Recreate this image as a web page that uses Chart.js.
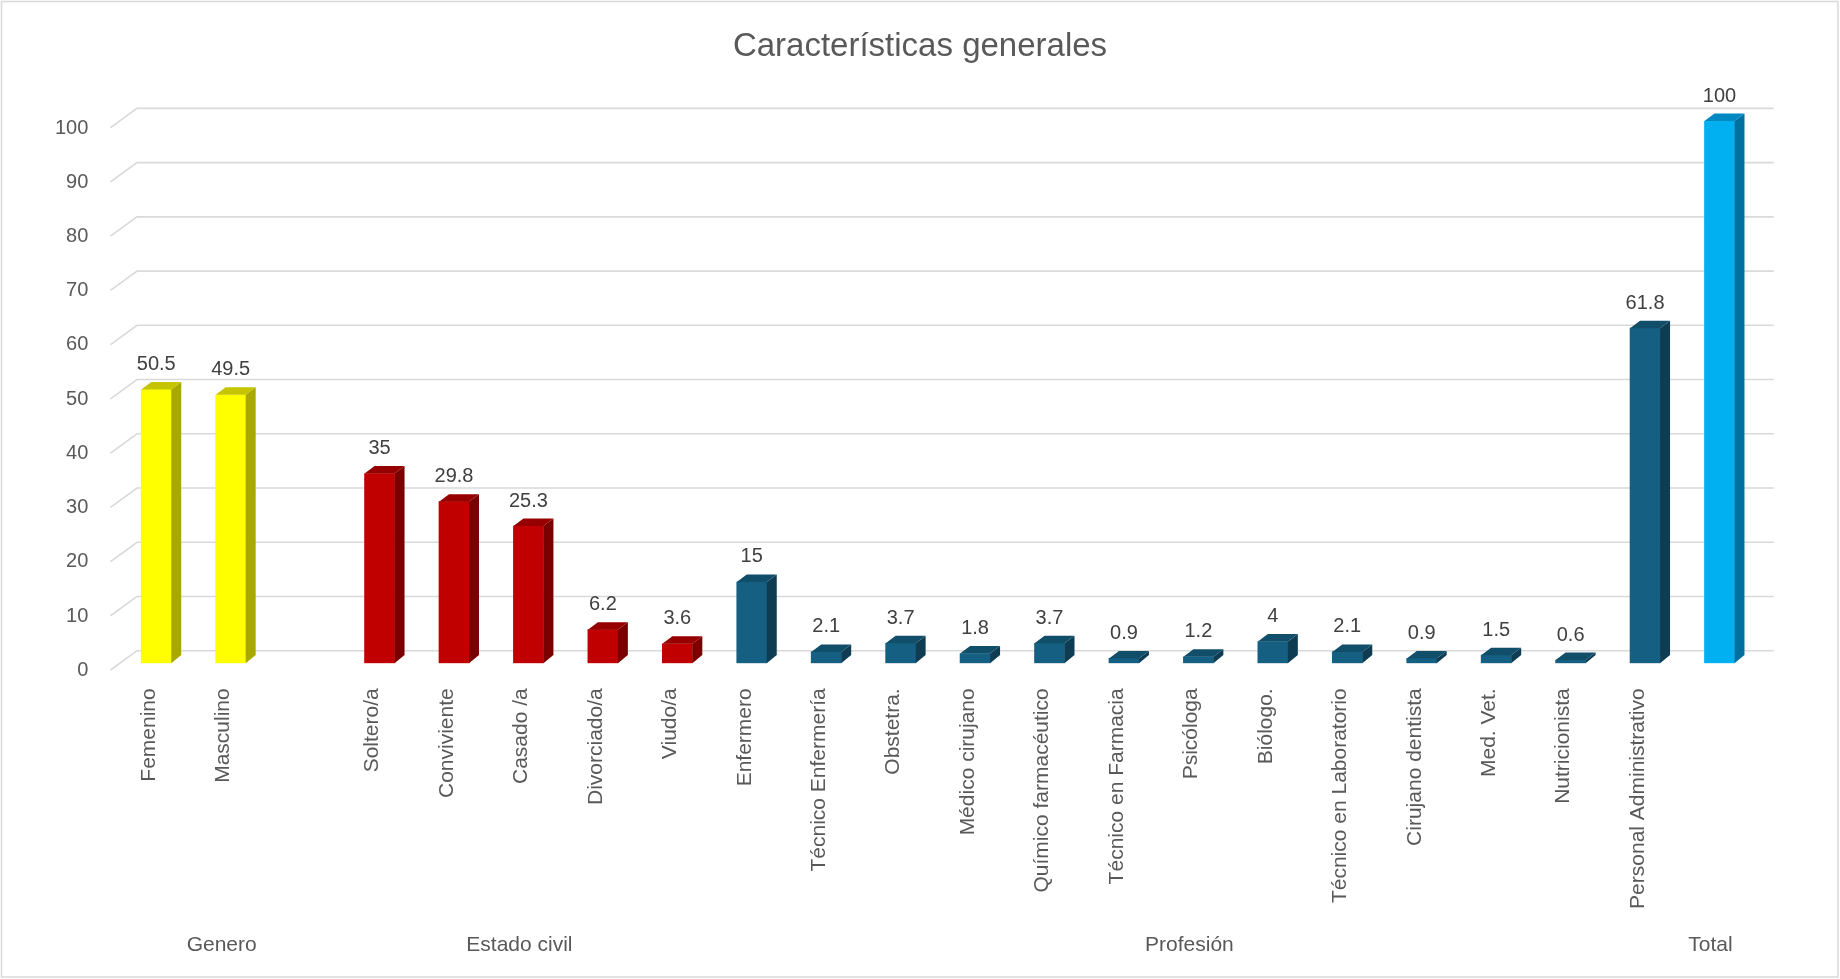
<!DOCTYPE html>
<html>
<head>
<meta charset="utf-8">
<script src="https://cdn.jsdelivr.net/npm/chart.js@4.4.1/dist/chart.umd.min.js"></script>
<style>
  html, body { margin: 0; padding: 0; background: #ffffff; }
  #wrap { position: relative; width: 1840px; height: 979px; }
</style>
</head>
<body>
<div id="wrap"><canvas id="c"></canvas></div>
<script>
// ---- data ----
const categories = ['Femenino', 'Masculino', '', 'Soltero/a', 'Conviviente', 'Casado /a', 'Divorciado/a', 'Viudo/a',
  'Enfermero', 'Técnico Enfermería', 'Obstetra.', 'Médico cirujano', 'Químico farmacéutico', 'Técnico en Farmacia',
  'Psicóloga', 'Biólogo.', 'Técnico en Laboratorio', 'Cirujano dentista', 'Med. Vet.', 'Nutricionista',
  'Personal Administrativo', ''];
const values = [50.5, 49.5, null, 35, 29.8, 25.3, 6.2, 3.6,
  15, 2.1, 3.7, 1.8, 3.7, 0.9, 1.2, 4, 2.1, 0.9, 1.5, 0.6, 61.8, 100];
const groupNames = ['Genero', 'Estado civil', 'Profesión', 'Total'];
const groupStart = [0, 3, 8, 21];
const groupEnd = [2, 7, 20, 21];
const yTicks = [0, 10, 20, 30, 40, 50, 60, 70, 80, 90, 100];
const titleText = 'Características generales';

// ---- styling ----
const FONT = 'Liberation Sans, Arial, sans-serif';
const groupOf = i => groupStart.findIndex((s, g) => i >= s && i <= groupEnd[g]);
const frontCols = ['#FFFF00', '#C00000', '#156082', '#00B0F0'];
const sideCols = ['#A8A800', '#7A0000', '#0E3D53', '#0070A0'];
const topCols = ['#C4C400', '#960000', '#114E6A', '#0088C2'];
const DX = 10, DY = -7.5;

const depthPlugin = {
  id: 'depth3d',
  beforeDatasetsDraw(chart) {
    const { ctx, chartArea } = chart;
    const ys = chart.scales.y;
    ctx.save();
    ctx.strokeStyle = '#D9D9D9';
    ctx.lineWidth = 1.6;
    yTicks.forEach(v => {
      const y = ys.getPixelForValue(v);
      ctx.beginPath();
      ctx.moveTo(chartArea.left - 8.5, y + 6.7);
      ctx.lineTo(chartArea.left + 18, y - 12.6);
      ctx.lineTo(chartArea.right + 17, y - 12.6);
      ctx.stroke();
    });
    ctx.restore();
  },
  afterDatasetsDraw(chart) {
    const { ctx } = chart;
    const meta = chart.getDatasetMeta(0);
    ctx.save();
    meta.data.forEach((bar, i) => {
      if (values[i] === null) return;
      const g = groupOf(i);
      const w = bar.width;
      const l = bar.x - w / 2, r = bar.x + w / 2;
      const t = bar.y, b = bar.base;
      // side face
      ctx.fillStyle = sideCols[g];
      ctx.beginPath();
      ctx.moveTo(r, t); ctx.lineTo(r + DX, t + DY); ctx.lineTo(r + DX, b + DY - 0.8); ctx.lineTo(r, b);
      ctx.closePath(); ctx.fill();
      // top face
      ctx.fillStyle = topCols[g];
      ctx.beginPath();
      ctx.moveTo(l, t); ctx.lineTo(l + DX, t + DY); ctx.lineTo(r + DX, t + DY); ctx.lineTo(r, t);
      ctx.closePath(); ctx.fill();
      // value label
      ctx.fillStyle = '#404040';
      ctx.font = '20px ' + FONT;
      ctx.textAlign = 'center';
      ctx.textBaseline = 'middle';
      ctx.fillText(String(values[i]), bar.x, t - 25);
    });
    ctx.restore();
  },
  afterDraw(chart) {
    const { ctx } = chart;
    const xs = chart.scales.x;
    ctx.save();
    ctx.fillStyle = '#595959';
    ctx.font = '21px ' + FONT;
    ctx.textAlign = 'center';
    ctx.textBaseline = 'middle';
    groupNames.forEach((name, g) => {
      const x = (xs.getPixelForValue(groupStart[g]) + xs.getPixelForValue(groupEnd[g])) / 2 - 9;
      ctx.fillText(name, x, 945);
    });
    ctx.strokeStyle = '#D9D9D9';
    ctx.lineWidth = 1.5;
    ctx.strokeRect(1.5, 1.5, 1836.5, 975.5);
    ctx.restore();
  }
};

new Chart(document.getElementById('c'), {
  type: 'bar',
  data: {
    labels: categories,
    datasets: [{
      data: values,
      backgroundColor: values.map((v, i) => frontCols[groupOf(i)]),
      borderWidth: 0,
      barThickness: 30
    }]
  },
  options: {
    responsive: true,
    maintainAspectRatio: false,
    animation: false,
    layout: { padding: { left: 0, right: 0, top: 0, bottom: 0 } },
    plugins: {
      legend: { display: false },
      tooltip: { enabled: false },
      title: {
        display: true,
        text: titleText,
        color: '#595959',
        font: { size: 33, family: FONT, weight: 'normal' },
        padding: { top: 27, bottom: 54.4 }
      }
    },
    scales: {
      x: {
        grid: { display: false, drawTicks: false },
        border: { display: false },
        ticks: {
          autoSkip: false, maxRotation: 90, minRotation: 90,
          color: '#595959', font: { size: 21, family: FONT },
          padding: 25, labelOffset: -7
        },
        afterFit(scale) { scale.height = 979 - 663.3; }
      },
      y: {
        min: 0, max: 100,
        grid: { display: false, drawTicks: false },
        border: { display: false },
        ticks: {
          stepSize: 10, color: '#595959', font: { size: 20, family: FONT },
          padding: 30.7, labelOffset: 7
        },
        afterFit(scale) { scale.width = 119; }
      },
      yRight: {
        position: 'right',
        min: 0, max: 100,
        grid: { display: false, drawTicks: false },
        border: { display: false },
        ticks: { display: false },
        afterFit(scale) { scale.width = 83.3; }
      }
    }
  },
  plugins: [depthPlugin]
});
</script>
</body>
</html>
